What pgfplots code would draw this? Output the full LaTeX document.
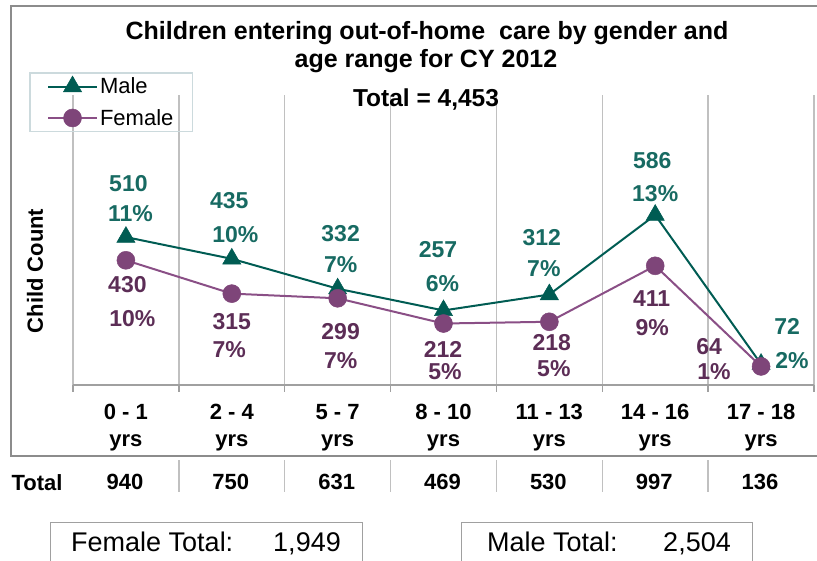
\documentclass[border=0pt]{standalone}
\usepackage{fontspec}
\setmainfont{Liberation Sans}
\usepackage{pgfplots}
\usepackage{pgfplotstable}
\pgfplotsset{compat=1.18}

\definecolor{maleC}{HTML}{005C53}
\definecolor{maleT}{HTML}{176A62}
\definecolor{femC}{HTML}{7E4579}
\definecolor{femL}{HTML}{8A4F86}
\definecolor{femT}{HTML}{5C2D56}
\definecolor{gridC}{HTML}{C0C0C0}
\definecolor{axC}{HTML}{A0A0A0}
\definecolor{frameC}{HTML}{8C8C8C}
\definecolor{legC}{HTML}{CCDADD}

\newcommand{\fs}[2]{\fontsize{#1}{#2}\selectfont}

% value, label text, label offsets (count, percent) in px from the point
\pgfplotstableread{
x y cnt pct dxc dyc dxp dyp
0 510 510 11 2.5 53.5 4.5 24
1 435 435 10 -2.5 58 3.5 24
2 332 332 7 3 55 3 24
3 257 257 6 -5.5 60.5 -1 26.5
4 312 312 7 -7.5 56.5 -5.5 25.5
5 586 586 13 -3 54 0 21.5
6 72 72 2 26 38 31 4
}\maleTab

\pgfplotstableread{
x y cnt pct dxc dyc dxp dyp
0 430 430 10 1.5 -24 6.5 -58
1 315 315 7 0 -28 -2.5 -56
2 299 299 7 3 -33 3 -62
3 212 212 5 -0.5 -25.5 1.5 -48
4 218 218 5 2.5 -21 4.5 -47
5 411 411 9 -3.5 -33 -3 -61.5
6 64 64 1 -52 20 -47 -5.5
}\femTab

\begin{document}
\begin{tikzpicture}[x=1pt,y=1pt]
\path[use as bounding box] (0,0) rectangle (817,561);

% chart frame (runs off the right edge)
\draw[frameC, line width=2pt] (840,555) -- (11,555) -- (11,105) -- (840,105);

\begin{axis}[
  at={(73pt,176pt)}, anchor=south west,
  width=741pt, height=290pt, scale only axis,
  xmin=-0.5, xmax=6.5, ymin=0, ymax=1000,
  axis x line*=bottom, axis y line=none,
  x axis line style={draw=axC, line width=2pt},
  xtick={0,...,6},
  xticklabels={{0 - 1\\yrs},{2 - 4\\yrs},{5 - 7\\yrs},{8 - 10\\yrs},{11 - 13\\yrs},{14 - 16\\yrs},{17 - 18\\yrs}},
  x tick label style={font=\bfseries\fs{22}{27}, align=center, inner sep=0pt, anchor=north, yshift=-19pt},
  major tick length=0pt,
  minor xtick={-0.5,0.5,...,6.5},
  minor tick length=7pt, tick align=outside,
  minor tick style={draw=axC, line width=1.5pt},
  xminorgrids=true,
  minor grid style={draw=gridC, line width=1.5pt},
  clip=false,
  legend cell align=left,
  legend image code/.code={\draw[mark repeat=2,mark phase=2,#1] plot coordinates {(0pt,0pt) (24.5pt,0pt) (49pt,0pt)};},
  legend style={at={(-0.059,1.079)}, anchor=north west, draw=legC, line width=1.5pt,
    fill=none, font=\fs{22}{26}, inner xsep=17pt, inner ysep=3pt, row sep=10pt,
    /tikz/every even column/.append style={column sep=7pt}},
]
\addplot[maleC, line width=2pt, mark=triangle*, mark size=10.5pt,
  mark options={solid, fill=maleC, draw=maleC, line width=0.5pt}]
  table[x=x, y=y] \maleTab;
\addplot[femL, line width=2pt, mark=*, mark size=9pt,
  mark options={solid, fill=femC, draw=femC, line width=0.5pt}]
  table[x=x, y=y] \femTab;
\legend{Male, Female}

% value labels
\addplot[draw=none, mark=none, nodes near coords, point meta=explicit symbolic,
  visualization depends on={\thisrow{dxc}\as\mydx},
  visualization depends on={\thisrow{dyc}\as\mydy},
  every node near coord/.append style={anchor=center, inner sep=0pt,
    xshift=\mydx pt, yshift=\mydy pt, text=maleT, font=\bfseries\fs{23}{27}}]
  table[x=x, y=y, meta=cnt] \maleTab;
\addplot[draw=none, mark=none, nodes near coords={\pgfplotspointmeta\%}, point meta=explicit symbolic,
  visualization depends on={\thisrow{dxp}\as\mydx},
  visualization depends on={\thisrow{dyp}\as\mydy},
  every node near coord/.append style={anchor=center, inner sep=0pt,
    xshift=\mydx pt, yshift=\mydy pt, text=maleT, font=\bfseries\fs{23}{27}}]
  table[x=x, y=y, meta=pct] \maleTab;
\addplot[draw=none, mark=none, nodes near coords, point meta=explicit symbolic,
  visualization depends on={\thisrow{dxc}\as\mydx},
  visualization depends on={\thisrow{dyc}\as\mydy},
  every node near coord/.append style={anchor=center, inner sep=0pt,
    xshift=\mydx pt, yshift=\mydy pt, text=femT, font=\bfseries\fs{23}{27}}]
  table[x=x, y=y, meta=cnt] \femTab;
\addplot[draw=none, mark=none, nodes near coords={\pgfplotspointmeta\%}, point meta=explicit symbolic,
  visualization depends on={\thisrow{dxp}\as\mydx},
  visualization depends on={\thisrow{dyp}\as\mydy},
  every node near coord/.append style={anchor=center, inner sep=0pt,
    xshift=\mydx pt, yshift=\mydy pt, text=femT, font=\bfseries\fs{23}{27}}]
  table[x=x, y=y, meta=pct] \femTab;

% totals row under the axis
\addplot[draw=none, mark=none, nodes near coords, point meta=explicit symbolic,
  every node near coord/.append style={anchor=center, inner sep=0pt,
    xshift=-1pt, yshift=-97pt, text=black, font=\bfseries\fs{22}{26}}]
  coordinates {(0,0)[940] (1,0)[750] (2,0)[631] (3,0)[469] (4,0)[530] (5,0)[997] (6,0)[136]};
\end{axis}

% titles
\node[anchor=base, font=\bfseries\fs{25}{29}] at (427,521) {Children entering out-of-home\ \ care by gender and};
\node[anchor=base, font=\bfseries\fs{25}{29}] at (426,493) {age range for CY 2012};
\node[anchor=base, font=\bfseries\fs{24.5}{29}] at (426,454) {Total = 4,453};
\node[rotate=90, font=\bfseries\fs{22}{26}] at (35,290) {Child Count};

% totals row
\node[font=\bfseries\fs{22}{26}] at (37,78.5) {Total};
\foreach \xx in {178.9,284.7,390.6,496.4,602.3,708.2}
  \draw[gridC, line width=1.5pt] (\xx,69) -- (\xx,101);

% gender total boxes
\draw[axC, line width=1pt] (50,-20) rectangle (362,38);
\node[anchor=base west, inner sep=0pt, font=\fs{27}{31}] at (71,9) {Female Total:};
\node[anchor=base east, inner sep=0pt, font=\fs{27}{31}] at (341,9) {1,949};
\draw[axC, line width=1pt] (461,-20) rectangle (752,38);
\node[anchor=base west, inner sep=0pt, font=\fs{27}{31}] at (487,9) {Male Total:};
\node[anchor=base east, inner sep=0pt, font=\fs{27}{31}] at (731,9) {2,504};
\end{tikzpicture}
\end{document}
